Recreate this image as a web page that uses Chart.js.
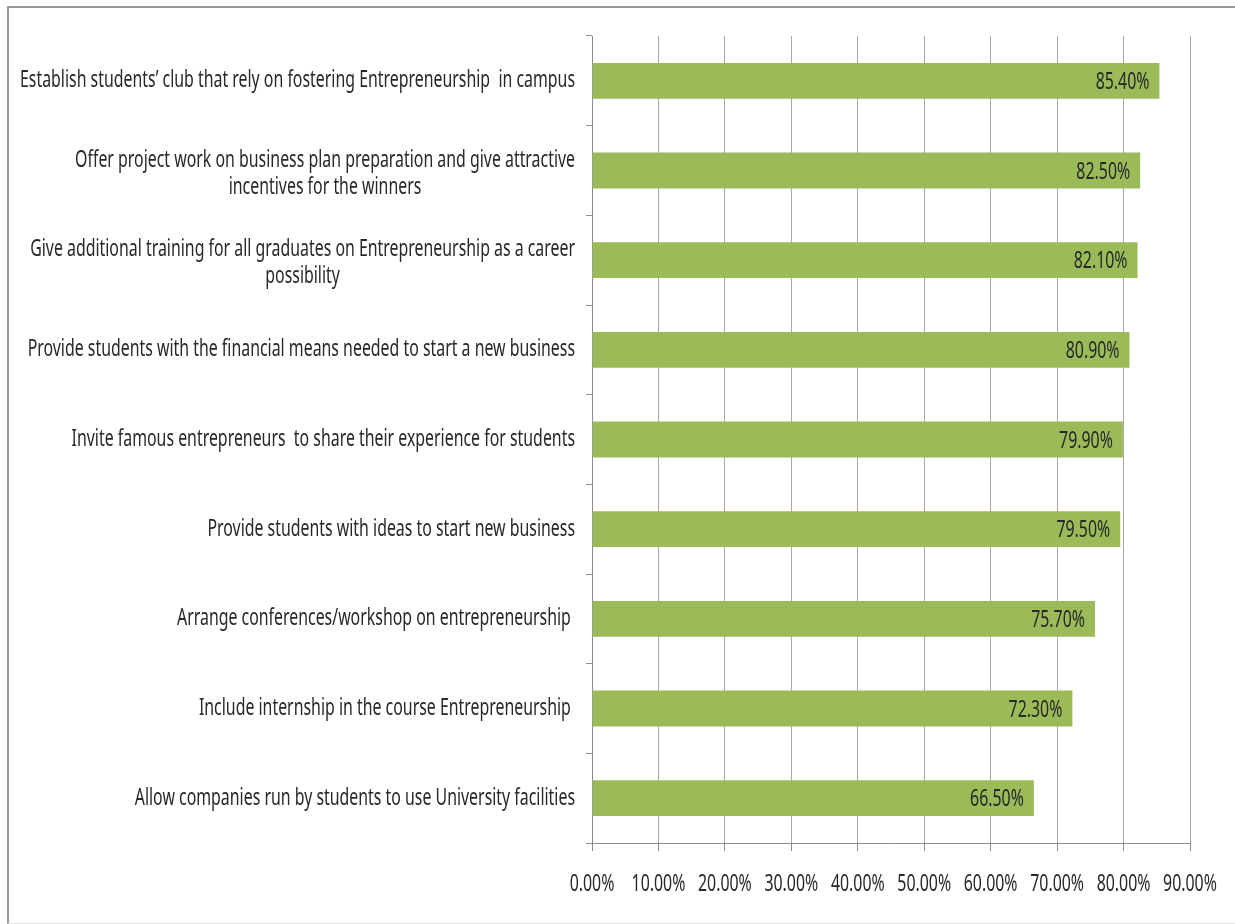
<!DOCTYPE html>
<html>
<head>
<meta charset="utf-8">
<script src="https://cdn.jsdelivr.net/npm/chart.js@4.4.0/dist/chart.umd.min.js"></script>
<style>
  body { margin: 0; background: #fff; overflow: hidden; }
  #frame {
    position: absolute; left: 7px; top: 6px; width: 1240px; height: 915px;
    border-left: 2px solid #9a9a9a; border-top: 2px solid #9a9a9a; border-bottom: 1px solid #e2e2e2;
  }
  #grafico { position: absolute; left: 0; top: 0; }
</style>
</head>
<body>
<div id="frame"></div>
<canvas id="grafico" width="1235" height="924"></canvas>
<script>
// categorias (cada item = linhas do rótulo)
const categorias = [
    ["Establish students’ club that rely on fostering Entrepreneurship  in campus"],
    ["Offer project work on business plan preparation and give attractive", "incentives for the winners"],
    ["Give additional training for all graduates on Entrepreneurship as a career", "possibility"],
    ["Provide students with the financial means needed to start a new business"],
    ["Invite famous entrepreneurs  to share their experience for students"],
    ["Provide students with ideas to start new business"],
    ["Arrange conferences/workshop on entrepreneurship "],
    ["Include internship in the course Entrepreneurship "],
    ["Allow companies run by students to use University facilities"]
];

// percentuais de cada barra
const valores = [85.4, 82.5, 82.1, 80.9, 79.9, 79.5, 75.7, 72.3, 66.5];

// eixo x
const eixoMin = 0;
const eixoMax = 90;
const eixoPasso = 10;

const fonte = "23px 'Noto Sans', sans-serif";
const corTexto = "#282828";

// texto "estreito": fonte comprimida na horizontal
let aperto = 1;
function textoEstreito(ctx, str, x, y, align) {
    ctx.save();
    ctx.translate(x, y);
    ctx.scale(aperto, 1);
    ctx.textAlign = align;
    ctx.fillText(str, 0, 0);
    ctx.restore();
}

// desenha rótulos das categorias, do eixo x e os valores nas barras
const rotulosPlugin = {
    id: "rotulos",
    afterDatasetsDraw(chart) {
        const ctx = chart.ctx;
        const escalaY = chart.scales.y;
        const escalaX = chart.scales.x;
        const meta = chart.getDatasetMeta(0);
        const alturaLinha = 27;
        const direita = chart.chartArea.left - 17;

        ctx.save();
        ctx.fillStyle = corTexto;
        ctx.textBaseline = "middle";
        ctx.font = fonte;
        aperto = 555 / ctx.measureText(categorias[0][0]).width;

        categorias.forEach((linhas, i) => {
            const yCentro = escalaY.getPixelForValue(i);
            const largura = Math.max(...linhas.map(l => ctx.measureText(l).width)) * aperto;
            if (linhas.length === 1) {
                textoEstreito(ctx, linhas[0], direita, yCentro, "right");
            } else {
                const y0 = yCentro - (linhas.length - 1) * alturaLinha / 2 + 3;
                linhas.forEach((l, k) => {
                    textoEstreito(ctx, l, direita - largura / 2, y0 + k * alturaLinha, "center");
                });
            }
        });

        escalaX.ticks.forEach(t => {
            const x = escalaX.getPixelForValue(t.value);
            textoEstreito(ctx, t.value.toFixed(2) + "%", x, chart.chartArea.bottom + 41, "center");
        });

        meta.data.forEach((barra, i) => {
            textoEstreito(ctx, valores[i].toFixed(2) + "%", barra.x - 10, barra.y + 1.5, "right");
        });
        ctx.restore();
    }
};

const grafico = new Chart(document.getElementById("grafico"), {
    type: "bar",
    data: {
        labels: categorias,
        datasets: [{
            label: "",
            data: valores,
            backgroundColor: "#9bbb59",
            borderWidth: 0,
            barPercentage: 0.4,
            categoryPercentage: 1
        }]
    },
    options: {
        indexAxis: "y",
        responsive: false,
        animation: false,
        layout: {
            padding: { top: 36, right: 45, left: 0, bottom: 0 }
        },
        scales: {
            x: {
                min: eixoMin,
                max: eixoMax,
                ticks: { stepSize: eixoPasso, display: false },
                grid: {
                    color: "#a8a8a8",
                    lineWidth: 1,
                    tickLength: 8,
                    tickColor: "#8c8c8c"
                },
                border: { color: "#8c8c8c", width: 1 },
                afterFit: escala => { escala.height = 924 - 843; }
            },
            y: {
                ticks: { display: false },
                grid: {
                    drawOnChartArea: false,
                    tickLength: 6,
                    color: "#8c8c8c"
                },
                border: { color: "#8c8c8c", width: 1 },
                afterFit: escala => { escala.width = 592; }
            }
        },
        plugins: {
            legend: { display: false },
            tooltip: { enabled: false }
        }
    },
    plugins: [rotulosPlugin]
});
</script>
</body>
</html>
